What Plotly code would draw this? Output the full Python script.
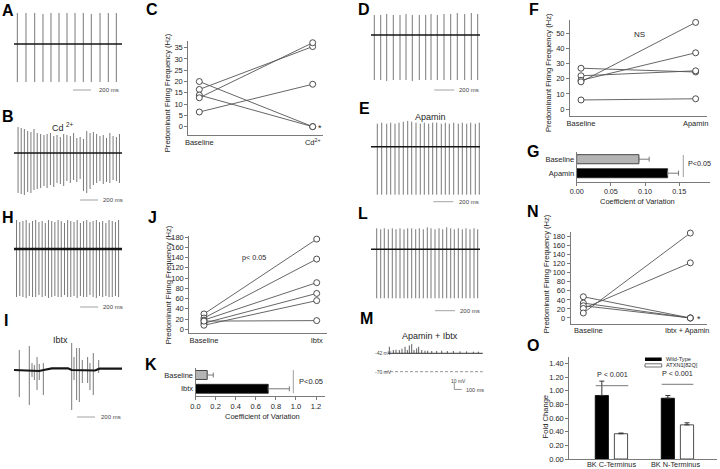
import plotly.graph_objects as go

# ---------------- DATA ----------------
# Recordings (spike times in ms, spike amplitudes above / below baseline)
A_T = [37, 133, 230, 322, 411, 500, 589, 678, 770, 859, 956, 1048, 1137]
A_UP = [31, 31, 31, 30, 31, 31, 31, 31, 31, 30, 31, 31, 31]
A_DN = [38, 38, 38, 38, 38, 38, 38, 38, 38, 38, 38, 38, 38]

B_T = [45, 80, 115, 152, 188, 222, 258, 296, 333, 368, 405, 442, 478, 515, 552, 588,
       626, 662, 698, 735, 772, 808, 845, 882, 918, 955, 992, 1028, 1065, 1101, 1138, 1172]
B_UP = [26, 25, 24, 22, 21, 24, 20, 19, 18, 19, 20, 17, 18, 16, 19, 18,
        17, 20, 15, 16, 14, 22, 20, 21, 19, 17, 18, 15, 20, 17, 16, 19]
B_DN = [40, 41, 42, 39, 40, 37, 36, 35, 33, 35, 32, 34, 30, 31, 33, 28,
        30, 27, 29, 26, 38, 40, 36, 32, 30, 28, 31, 29, 30, 27, 28, 30]

H_T = [28, 64, 99, 135, 170, 206, 241, 277, 313, 348, 383, 419, 454, 490, 525, 561, 596,
       631, 667, 702, 738, 773, 808, 844, 879, 915, 950, 985, 1021, 1056, 1092, 1127, 1162]
H_UP = [29, 27, 28, 29, 26, 28, 29, 27, 28, 26, 29, 28, 27, 29, 28, 26, 29,
        28, 27, 29, 26, 28, 29, 27, 28, 29, 27, 28, 26, 29, 28, 27, 29]
H_DN = [48, 47, 48, 49, 47, 48, 48, 46, 48, 47, 49, 48, 47, 48, 48, 46, 48,
        48, 47, 49, 47, 48, 48, 46, 48, 49, 47, 48, 47, 48, 48, 47, 48]

I_T = [59, 170, 200, 226, 256, 281, 326, 641, 667, 696, 726, 759, 818, 844, 881, 941]
I_UP = [20, 24, 7, 5, 13, 6, 7, 27, 13, 22, 22, 10, 13, 7, 17, 10]
I_DN = [27, 35, 7, 10, 20, 10, 25, 40, 10, 30, 32, 13, 13, 20, 25, 3]
I_BASE_T = [0, 280, 330, 390, 420, 600, 640, 900, 950, 1200]
I_BASE_V = [0, -1, 0, 1.5, 1.7, 1.7, 0, -0.5, 1.3, 1.3]

D_T = [33, 97, 157, 223, 290, 350, 413, 483, 547, 600, 663, 730, 797, 863, 937, 1003, 1067]
D_UP = [20, 20, 21, 20, 20, 21, 20, 20, 20, 21, 20, 21, 21, 22, 21, 22, 21]
D_DN = [45, 45, 46, 45, 45, 45, 46, 45, 45, 45, 45, 45, 45, 45, 45, 45, 45]

E_T = [63, 107, 157, 197, 240, 280, 323, 367, 407, 450, 493, 533, 577, 617, 657, 703,
       743, 783, 827, 873, 913, 957, 997, 1043, 1083]
E_UP = [23, 24, 23, 24, 23, 24, 25, 26, 25, 24, 23, 24, 23, 24, 24, 23,
        24, 23, 24, 23, 24, 23, 24, 23, 24]
E_DN = [48, 48, 48, 48, 48, 48, 48, 48, 48, 48, 48, 48, 48, 48, 48, 48,
        48, 48, 48, 48, 48, 48, 48, 48, 48]

L_T = [57, 97, 133, 173, 213, 250, 290, 330, 367, 407, 447, 483, 523, 563, 600, 640,
       680, 717, 757, 797, 833, 873, 913, 950, 990, 1030, 1067]
L_UP = [21, 20, 21, 20, 21, 20, 21, 20, 21, 21, 20, 21, 20, 22, 21, 20,
        21, 20, 22, 21, 20, 21, 20, 21, 20, 21, 20]
L_DN = [49, 49, 49, 49, 49, 49, 49, 49, 49, 49, 49, 49, 49, 49, 49, 49,
        49, 49, 49, 49, 49, 49, 49, 49, 49, 49, 49]

M_REST = -42
M_HOLD = -70
M_T = [18, 72, 108, 153, 189, 230, 261, 288, 320, 351, 387, 414, 455, 500, 536, 590,
       657, 725, 801, 882, 972, 1062, 1152, 1219]
M_H = [10, 5, 5.5, 5, 7, 10, 5, 12, 14, 5, 7.5, 10, 5, 4, 4, 3.5,
       3.5, 4, 3.5, 3.5, 3, 3, 2.5, 2.5]
M_LEN = 1280
REC_LEN = 1200      # A, B, H, I
REC_LEN2 = 1090     # D, E, L

# Frequency panels
C_CAT = ["Baseline", "Cd<sup>2+</sup>"]
C_BASE = [20, 16.5, 14, 12.8, 6.5]
C_CD = [0, 35.5, 0, 37.2, 18.8]

F_CAT = ["Baseline", "Apamin"]
F_BASE = [27, 22, 19, 18, 6]
F_APA = [24.5, 25.3, 37.2, 57.3, 6.8]

J_CAT = ["Baseline", "Ibtx"]
J_BASE = [30, 22, 18, 12, 8, 16]
J_IBTX = [176, 137, 91, 70, 56, 17]

N_CAT = ["Baseline", "Ibtx + Apamin"]
N_BASE = [47, 33, 27, 21, 11]
N_IA = [0, 0, 0, 122, 188]

# Coefficient of variation panels
G_CAT = ["Baseline", "Apamin"]
G_CV = [0.091, 0.133]
G_ERR = [0.015, 0.016]

K_CAT = ["Baseline", "Ibtx"]
K_CV = [0.117, 0.724]
K_ERR = [0.06, 0.21]

# qPCR panel
O_CAT = ["BK C-Terminus", "BK N-Terminus"]
O_WT = [0.93, 0.89]
O_WT_ERR = [0.21, 0.04]
O_ATXN = [0.37, 0.50]
O_ATXN_ERR = [0.01, 0.03]

# ---------------- FIGURE ----------------
W, H = 720, 469
FONT = "Liberation Sans, Arial, Helvetica, sans-serif"
TXT = "#1e1e1e"
AXC = "#7a7a7a"

fig = go.Figure()


def fx(p):
    return p / W


def fy(p):
    return 1 - p / H


def sfx(n):
    return "" if n == 1 else str(n)


def set_axes(n, xpx, ypx, xr, yr, xkw=None, ykw=None, visible=False):
    s = sfx(n)
    base = dict(fixedrange=True, showgrid=False, zeroline=False, visible=visible, automargin=False)
    xa = dict(base, domain=[fx(xpx[0]), fx(xpx[1])], range=xr, anchor="y" + s)
    ya = dict(base, domain=[fy(ypx[1]), fy(ypx[0])], range=yr, anchor="x" + s)
    if xkw:
        xa.update(xkw)
    if ykw:
        ya.update(ykw)
    fig.update_layout(**{"xaxis" + s: xa, "yaxis" + s: ya})


def recording(n, times, ups, downs, base_t, base_v, base_w=1.8):
    s = sfx(n)
    xs, ys = [], []
    for t, u, d in zip(times, ups, downs):
        xs += [t, t, None]
        ys += [u, -d, None]
    fig.add_trace(go.Scatter(x=xs, y=ys, mode="lines", line=dict(color="#6a6a6a", width=0.9),
                             xaxis="x" + s, yaxis="y" + s, hoverinfo="skip", showlegend=False))
    fig.add_trace(go.Scatter(x=base_t, y=base_v, mode="lines", line=dict(color="#151515", width=base_w),
                             xaxis="x" + s, yaxis="y" + s, hoverinfo="skip", showlegend=False))


shapes = []
anns = []


def ann(text, x, y, size=7.5, xanchor="center", yanchor="middle", angle=0, color=TXT, bold=False):
    if bold:
        text = "<b>" + text + "</b>"
    anns.append(dict(text=text, x=fx(x), y=fy(y), xref="paper", yref="paper", showarrow=False,
                     xanchor=xanchor, yanchor=yanchor, textangle=angle,
                     font=dict(family=FONT, size=size, color=color)))


def pline(x0, y0, x1, y1, color="#777777", width=1, dash="solid"):
    shapes.append(dict(type="line", xref="paper", yref="paper", x0=fx(x0), y0=fy(y0),
                       x1=fx(x1), y1=fy(y1), line=dict(color=color, width=width, dash=dash)))


def scalebar(n, t0, length, ypx, tx, label="200 ms"):
    s = sfx(n)
    shapes.append(dict(type="line", xref="x" + s, yref="paper", x0=t0, x1=t0 + length,
                       y0=fy(ypx), y1=fy(ypx), line=dict(color="#8a8a8a", width=0.8)))
    ann(label, tx, ypx, size=6, xanchor="left", color="#444444")


# ---- recordings ----
set_axes(1, (14, 122), (8, 94), [0, 1200], [-50, 36])
recording(1, A_T, A_UP, A_DN, [0, REC_LEN], [0, 0], base_w=1.6)
scalebar(1, 656, 200, 90, 97)

set_axes(2, (14, 122), (123, 203), [0, 1200], [-50, 30])
recording(2, B_T, B_UP, B_DN, [0, REC_LEN], [0, 0], base_w=1.6)
scalebar(2, 735, 200, 200, 101)

set_axes(3, (14, 122), (217, 311), [0, 1200], [-62, 32])
recording(3, H_T, H_UP, H_DN, [0, REC_LEN], [0, 0], base_w=2.6)
scalebar(3, 735, 200, 307, 101)

set_axes(4, (14, 122), (340, 420), [0, 1200], [-50, 30])
recording(4, I_T, I_UP, I_DN, I_BASE_T, I_BASE_V, base_w=2.2)
scalebar(4, 700, 200, 417, 99)

set_axes(5, (371, 481), (10, 93), [0, 1100], [-58, 25])
recording(5, D_T, D_UP, D_DN, [0, REC_LEN2], [0, 0], base_w=1.6)
scalebar(5, 633, 200, 90, 457)

set_axes(6, (371, 481), (120.7, 204.7), [0, 1100], [-58, 26])
recording(6, E_T, E_UP, E_DN, [0, REC_LEN2], [0, 0], base_w=1.6)
scalebar(6, 623, 200, 201.7, 457)

set_axes(7, (371, 481), (225.3, 313.3), [0, 1100], [-64, 24])
recording(7, L_T, L_UP, L_DN, [0, REC_LEN2], [0, 0], base_w=1.6)
scalebar(7, 640, 200, 310.7, 458)

# M: membrane potential trace
set_axes(8, (384.3, 484), (338, 396), [-50, 1296], [-107, -18.7])
mx, my = [], []
for t, h in zip(M_T, M_H):
    mx += [t, t, None]
    my += [M_REST, M_REST + h, None]
fig.add_trace(go.Scatter(x=mx, y=my, mode="lines", line=dict(color="#333333", width=0.8),
                         xaxis="x8", yaxis="y8", hoverinfo="skip", showlegend=False))
fig.add_trace(go.Scatter(x=[0, M_LEN], y=[M_REST, M_REST], mode="lines",
                         line=dict(color="#333333", width=1), xaxis="x8", yaxis="y8",
                         hoverinfo="skip", showlegend=False))
fig.add_trace(go.Scatter(x=[-40, M_LEN], y=[M_HOLD, M_HOLD], mode="lines",
                         line=dict(color="#777777", width=0.8, dash="3px,2px"), xaxis="x8", yaxis="y8",
                         hoverinfo="skip", showlegend=False))
shapes.append(dict(type="line", xref="x8", yref="y8", x0=895, x1=895, y0=-97, y1=-87,
                   line=dict(color="#777777", width=0.8)))
shapes.append(dict(type="line", xref="x8", yref="y8", x0=895, x1=995, y0=-97, y1=-97,
                   line=dict(color="#777777", width=0.8)))
ann("-42 mV", 372.5, 352.5, size=5, xanchor="left", color="#444444")
ann("-70 mV", 372.5, 371.7, size=5, xanchor="left", color="#444444")
ann("10 mV", 458, 381, size=5, color="#444444")
ann("100 ms", 464, 389.5, size=5.5, xanchor="left", color="#444444")

# ---- common axis style ----
AX = dict(visible=True, showline=True, linecolor=AXC, linewidth=1, ticks="outside", ticklen=3,
          tickcolor=AXC, tickwidth=1, tickfont=dict(family=FONT, size=7.5, color=TXT))
CATX = dict(AX, ticks="", type="category", tickfont=dict(family=FONT, size=7.5, color=TXT))


def pairs(n, cats, a, b):
    s = sfx(n)
    xs, ys = [], []
    for u, v in zip(a, b):
        xs += [cats[0], cats[1], None]
        ys += [u, v, None]
    fig.add_trace(go.Scatter(x=xs, y=ys, mode="lines+markers", cliponaxis=False,
                             line=dict(color="#555555", width=0.9),
                             marker=dict(symbol="circle", size=6, color="white",
                                         line=dict(color="#3a3a3a", width=0.9)),
                             xaxis="x" + s, yaxis="y" + s, hoverinfo="skip", showlegend=False))


# C
set_axes(9, (188.3, 323), (40.7, 135), [-0.097, 1.091], [-3.7, 38.1],
         xkw=dict(CATX, categoryorder="array", categoryarray=C_CAT),
         ykw=dict(AX, tick0=0, dtick=5))
pairs(9, C_CAT, C_BASE, C_CD)
ann("*", 319.5, 127.5, size=9)
ann("Predominant Firing Frequency (Hz)", 167.7, 92.5, size=7.6, angle=-90)

# J
set_axes(10, (189.3, 327.3), (236, 332.5), [-0.13, 1.094], [-6.2, 182],
         xkw=dict(CATX, categoryorder="array", categoryarray=J_CAT),
         ykw=dict(AX, tick0=0, dtick=20))
pairs(10, J_CAT, J_BASE, J_IBTX)
ann("p&lt; 0.05", 254, 257.7, size=7.2)
ann("Predominant Firing Frequency (Hz)", 168.3, 285, size=7.6, angle=-90)

# F
set_axes(12, (570, 707), (20, 115.7), [-0.096, 1.099], [-4.4, 58.9],
         xkw=dict(CATX, categoryorder="array", categoryarray=F_CAT),
         ykw=dict(AX, tick0=0, dtick=10))
pairs(12, F_CAT, F_BASE, F_APA)
ann("NS", 639, 34, size=8)
ann("Predominant Firing Frequency (Hz)", 548, 73, size=7.6, angle=-90)

# N (category labels drawn as annotations to keep the long one inside the page)
set_axes(14, (570.7, 707), (231.7, 324.3), [-0.118, 1.156], [-14, 191],
         xkw=dict(CATX, categoryorder="array", categoryarray=N_CAT, showticklabels=False),
         ykw=dict(AX, tick0=0, dtick=20))
pairs(14, N_CAT, N_BASE, N_IA)
ann(N_CAT[0], 588, 330, size=7.5)
ann(N_CAT[1], 687, 330.5, size=7.3)
ann("*", 698.5, 318.5, size=9)
ann("Predominant Firing Frequency (Hz)", 546.7, 273.5, size=7.6, angle=-90)

# G
CATY = dict(AX, ticks="", type="category", categoryorder="array",
            tickfont=dict(family=FONT, size=7.5, color=TXT))
set_axes(13, (576.7, 710), (151.7, 181.7), [0, 0.195], [-0.607, 1.536],
         xkw=dict(AX, tickvals=[0, 0.05, 0.10, 0.15], tickformat=".2f",
                  tickfont=dict(family=FONT, size=7.2, color=TXT)),
         ykw=dict(CATY, categoryarray=G_CAT[::-1]))
fig.add_trace(go.Bar(y=G_CAT, x=G_CV, orientation="h", width=0.65,
                     marker=dict(color=["#b4b4b4", "#000000"], line=dict(color="#222222", width=0.8)),
                     error_x=dict(type="data", array=G_ERR, arrayminus=[0, 0], symmetric=False,
                                  color="#777777", thickness=1, width=2.5),
                     xaxis="x13", yaxis="y13", hoverinfo="skip", showlegend=False))
pline(683.3, 155, 683.3, 177, color="#888888", width=0.8)
ann("P&lt;0.05", 686, 164, size=7.2, xanchor="left")
ann("Coefficient of Variation", 637, 201.7, size=7.5)

# K
set_axes(11, (195.5, 325), (368, 395.7), [0, 1.289], [-0.5, 1.507],
         xkw=dict(AX, tick0=0, dtick=0.2, tickformat=".1f"),
         ykw=dict(CATY, categoryarray=K_CAT[::-1]))
fig.add_trace(go.Bar(y=K_CAT, x=K_CV, orientation="h", width=0.65,
                     marker=dict(color=["#b4b4b4", "#000000"], line=dict(color="#222222", width=0.8)),
                     error_x=dict(type="data", array=K_ERR, arrayminus=[0, 0], symmetric=False,
                                  color="#777777", thickness=1, width=2.5),
                     xaxis="x11", yaxis="y11", hoverinfo="skip", showlegend=False))
pline(293.3, 370, 293.3, 393.3, color="#888888", width=0.8)
ann("P&lt;0.05", 296.5, 381.7, size=7.5, xanchor="left")
ann("Coefficient of Variation", 262, 416.7, size=7.5)

# O
set_axes(15, (569.3, 716.7), (357.3, 459), [-0.638, 1.595], [0, 1.489],
         xkw=dict(CATX, categoryorder="array", categoryarray=O_CAT, showticklabels=False),
         ykw=dict(AX, tick0=0, dtick=0.2, tickformat=".2f"))
fig.add_trace(go.Bar(x=O_CAT, y=O_WT, width=0.2, offset=-0.245,
                     marker=dict(color="#000000", line=dict(color="#000000", width=0.8)),
                     error_y=dict(type="data", array=O_WT_ERR, arrayminus=[0, 0], symmetric=False,
                                  color="#333333", thickness=1, width=2.5),
                     xaxis="x15", yaxis="y15", hoverinfo="skip", showlegend=False))
fig.add_trace(go.Bar(x=O_CAT, y=O_ATXN, width=0.2, offset=0.045,
                     marker=dict(color="#ffffff", line=dict(color="#222222", width=0.8)),
                     error_y=dict(type="data", array=O_ATXN_ERR, arrayminus=[0, 0], symmetric=False,
                                  color="#333333", thickness=1, width=2.5),
                     xaxis="x15", yaxis="y15", hoverinfo="skip", showlegend=False))
ann(O_CAT[0], 611.7, 464, size=7.3)
ann(O_CAT[1], 675, 464, size=7.3)
pline(595.7, 385.7, 628.3, 385.7, color="#555555", width=0.8)
pline(661.7, 384.3, 693.3, 384.3, color="#555555", width=0.8)
ann("P &lt; 0.001", 612, 374, size=7.2)
ann("P &lt; 0.001", 677.5, 373, size=7.2)
ann("Fold Change", 545.7, 416.7, size=7.6, angle=-90)
# legend
shapes.append(dict(type="rect", xref="paper", yref="paper", x0=fx(645), x1=fx(661.7),
                   y0=fy(361), y1=fy(357.5), fillcolor="#000000", line=dict(width=0)))
shapes.append(dict(type="rect", xref="paper", yref="paper", x0=fx(645), x1=fx(661.7),
                   y0=fy(367), y1=fy(363.8), fillcolor="#ffffff", line=dict(color="#333333", width=0.7)))
ann("Wild-Type", 663.5, 359.2, size=5.6, xanchor="left")
ann("ATXN1[82Q]", 663.5, 365.4, size=5.6, xanchor="left")

# ---- titles over recordings ----
ann("Cd <sup>2+</sup>", 63, 127, size=9)
ann("Ibtx", 60, 340, size=9)
ann("Apamin", 430, 117, size=9)
ann("Apamin + Ibtx", 430, 335.5, size=9)

# ---- panel letters ----
for lab, x, y in [("A", 8, 10.5), ("B", 8, 117), ("H", 8, 217), ("I", 5.5, 320),
                  ("C", 152, 10), ("J", 152, 218), ("K", 151, 364),
                  ("D", 364, 10), ("E", 364, 108), ("L", 363, 213), ("M", 366, 318),
                  ("F", 534, 9.5), ("G", 533, 151), ("N", 533, 211), ("O", 533, 345)]:
    ann(lab, x, y, size=16, color="#000000", bold=True)

fig.update_layout(template="none", width=W, height=H, autosize=False,
                  margin=dict(l=0, r=0, t=0, b=0, pad=0),
                  paper_bgcolor="white", plot_bgcolor="rgba(0,0,0,0)", barmode="overlay",
                  showlegend=False, shapes=shapes, annotations=anns,
                  font=dict(family=FONT, color=TXT))

# remove the browser's default 8px page margin so the 720x469 figure fills the window exactly
fig.write_html("out.html",
               config={"displayModeBar": False, "staticPlot": True},
               post_script="document.body.style.margin='0px';"
                           "document.documentElement.style.overflow='hidden';")
